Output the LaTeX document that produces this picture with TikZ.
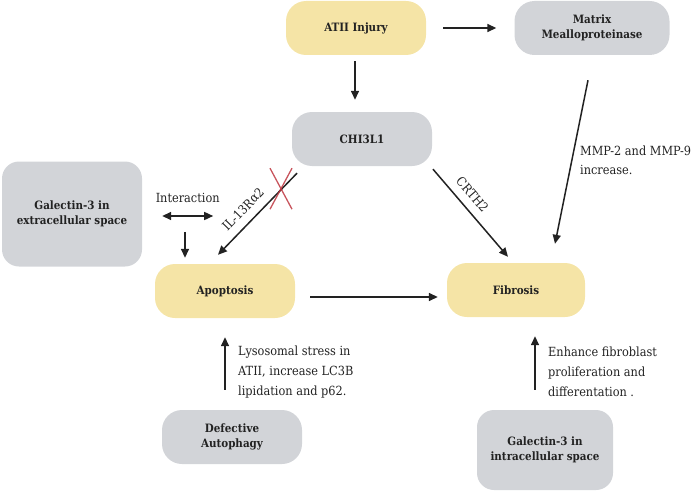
\documentclass[tikz,border=0pt]{standalone}
\usepackage{fontspec}
\setmainfont{DejaVu Serif Condensed}
\usetikzlibrary{arrows.meta,calc}
\definecolor{boxyellow}{RGB}{245,228,166}
\definecolor{boxgray}{RGB}{210,212,216}
\definecolor{txt}{RGB}{34,34,34}
\definecolor{xred}{RGB}{190,55,65}
\tikzset{
  ybox/.style={rectangle, rounded corners=20pt, fill=boxyellow, text=txt, font=\fontsize{11.5}{14}\selectfont\bfseries, align=center, minimum width=140pt, minimum height=54pt, inner sep=2pt},
  gbox/.style={rectangle, rounded corners=20pt, fill=boxgray, text=txt, font=\fontsize{11.5}{15}\selectfont\bfseries, align=center, minimum width=140pt, minimum height=54pt, inner sep=2pt},
  bigbox/.style={gbox, rounded corners=17pt},
  lbl/.style={text=txt, font=\fontsize{12.6}{15}\selectfont, inner sep=1pt},
  sidelbl/.style={lbl, align=left, anchor=west, font=\fontsize{12.6}{20}\selectfont},
  arr/.style={draw=txt, line width=1.5pt, -{Stealth[length=9pt,width=8pt,inset=0pt]}},
  darr/.style={draw=txt, line width=1.5pt, {Stealth[length=9pt,width=8pt,inset=0pt]}-{Stealth[length=9pt,width=8pt,inset=0pt]}},
}
\begin{document}
\begin{tikzpicture}[x=1pt,y=-1pt]
\useasboundingbox (0,0) rectangle (700,492);
% nodes
\node[ybox] (atii) at (356,28) {ATII Injury};
\node[gbox, minimum width=155pt] (mmp) at (592,28) {Matrix\\Mealloproteinase};
\node[gbox] (chi) at (362,139) {CHI3L1};
\node[bigbox, minimum height=105pt] (ext) at (72,214) {Galectin-3 in\\extracellular space};
\node[ybox] (apo) at (225,291) {Apoptosis};
\node[ybox, minimum width=138pt] (fib) at (516,290) {Fibrosis};
\node[gbox] (auto) at (232,437) {Defective\\Autophagy};
\node[bigbox, minimum width=136pt, minimum height=80pt] (intra) at (545,450) {Galectin-3 in\\intracellular space};
% free coordinates
\coordinate (ia) at ($(ext.east)+(20,2)$);
\coordinate (ib) at ($(ext.east)+(71,2)$);
\coordinate (da) at ($(apo.north)+(-40,-32)$);
\coordinate (db) at ($(apo.north)+(-40,-6)$);
% connectors
\draw[arr] ($(atii.east)+(17,0)$) -- ($(mmp.west)+(-18,0)$);
\draw[arr] ($(atii.south)+(-1,6)$) -- ($(atii.south |- chi.north)+(-1,-12)$);
\draw[arr] ($(mmp.south)+(-4,25)$) -- ($(fib.north)+(39,-19)$);
\draw[arr] ($(chi.south)+(71,3)$) -- node[lbl, sloped, above=7pt, pos=0.39] {CRTH2} ($(fib.north)+(-8,-6)$);
\draw[arr] ($(chi.south)+(-65,7)$) -- node[lbl, sloped, above=7pt, pos=0.56] {IL-13Rα2} ($(apo.north)+(-7,-9)$);
\draw[xred, line width=1.3pt, opacity=0.85] ($(chi.south)+(-92,2)$) -- ($(chi.south)+(-70,43)$);
\draw[xred, line width=1.3pt, opacity=0.85] ($(chi.south)+(-70,2)$) -- ($(chi.south)+(-92,43)$);
\draw[darr] (ia) -- node[lbl, above=12pt] {Interaction} (ib);
\draw[arr] (da) -- (db);
\draw[arr] ($(apo.east)+(15,6)$) -- ($(fib.west)+(-9,7)$);
\draw[arr] ($(auto.north)+(-7,-20)$) -- ($(apo.south)+(0,19)$);
\draw[arr] ($(intra.north)+(-10,-20)$) -- ($(fib.south)+(19,19)$);
% side labels
\node[sidelbl] (l1) at (237,372) {Lysosomal stress in\\ATII, increase LC3B\\lipidation and p62.};
\node[sidelbl] (l2) at (547,372) {Enhance fibroblast\\proliferation and\\differentation .};
\node[sidelbl, font=\fontsize{12.6}{19}\selectfont] (l3) at (579,160) {MMP-2 and MMP-9\\increase.};
\end{tikzpicture}
\end{document}
